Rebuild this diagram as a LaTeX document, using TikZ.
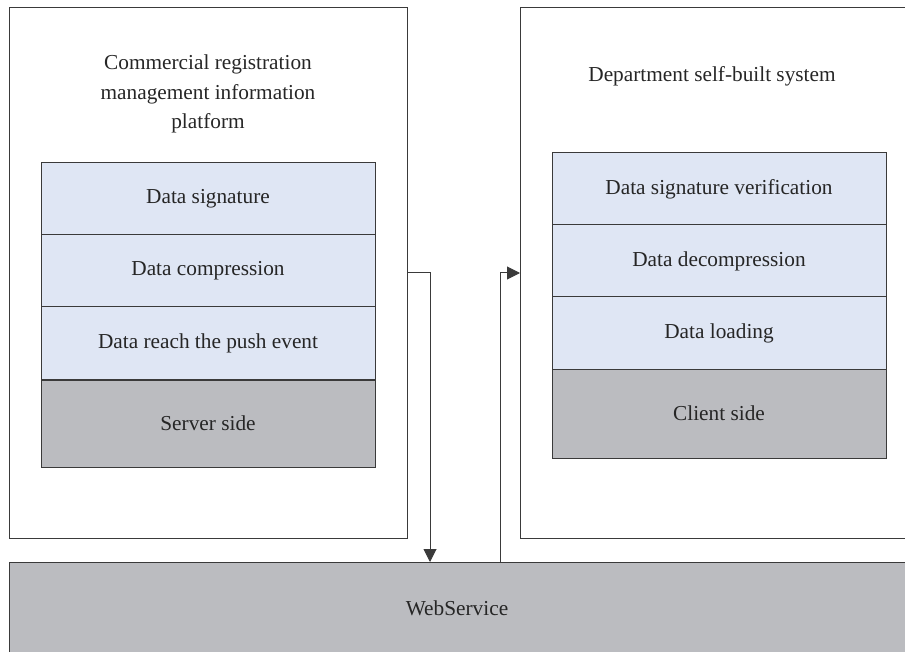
\documentclass[tikz,border=0pt]{standalone}
\usepackage{fontspec}
\setmainfont{Liberation Serif}
\usetikzlibrary{arrows.meta,positioning}
\definecolor{rowblue}{HTML}{DFE6F4}
\definecolor{sidegray}{HTML}{BBBCC0}
\definecolor{edge}{HTML}{3A3A3A}
\definecolor{ink}{HTML}{262626}
\begin{document}
\begin{tikzpicture}[x=1pt,y=-1pt,
  every node/.style={inner sep=0pt,outer sep=0pt,text=ink,font=\fontsize{21.3}{29.5}\selectfont},
  frame/.style={draw=edge,line width=1pt,rectangle,anchor=north west},
  layer/.style={frame,fill=rowblue,minimum width=334pt,minimum height=72pt},
  sidelayer/.style={frame,fill=sidegray,minimum width=334pt,minimum height=87pt},
  arr/.style={draw=edge,line width=1pt,-{Triangle[length=13pt,width=13pt]}}]
\useasboundingbox (0,0) rectangle (905,652);
\begin{scope}
\clip (0,0) rectangle (905,652);
% outer platforms
\node[frame,minimum width=398pt,minimum height=530pt] (lp) at (9,8) {};
\node[frame,minimum width=400pt,minimum height=530pt] (rp) at (520,8) {};
% shared service bar
\node[frame,fill=sidegray,minimum width=910pt,minimum height=100pt] (ws) at (9,562) {};
\node at (457,608) {WebService};
% titles
\node[align=center] (lt) at (208,94) {Commercial registration\\management information\\platform};
\node (rt) at (712,76) {Department self-built system};
% server-side stack
\node[layer] (ds) at (41,163) {Data signature};
\node[layer] (dc) at (41,235) {Data compression};
\node[layer] (dp) at (41,307) {Data reach the push event};
\node[sidelayer,minimum height=87pt] (ss) at (41,380) {Server side};
% client-side stack
\node[layer] (sv) at (552,153) {Data signature verification};
\node[layer] (dd) at (552,225) {Data decompression};
\node[layer] (dl) at (552,297) {Data loading};
\node[sidelayer,minimum height=89pt] (cs) at (552,369) {Client side};
% connectors
\coordinate (outturn) at (430,273);
\coordinate (inturn) at (500,273);
\draw[arr] (lp.east |- outturn) -- (outturn) -- (outturn |- ws.north);
\draw[arr] (inturn |- ws.north) -- (inturn) -- (rp.west |- inturn);
\end{scope}
\end{tikzpicture}
\end{document}
